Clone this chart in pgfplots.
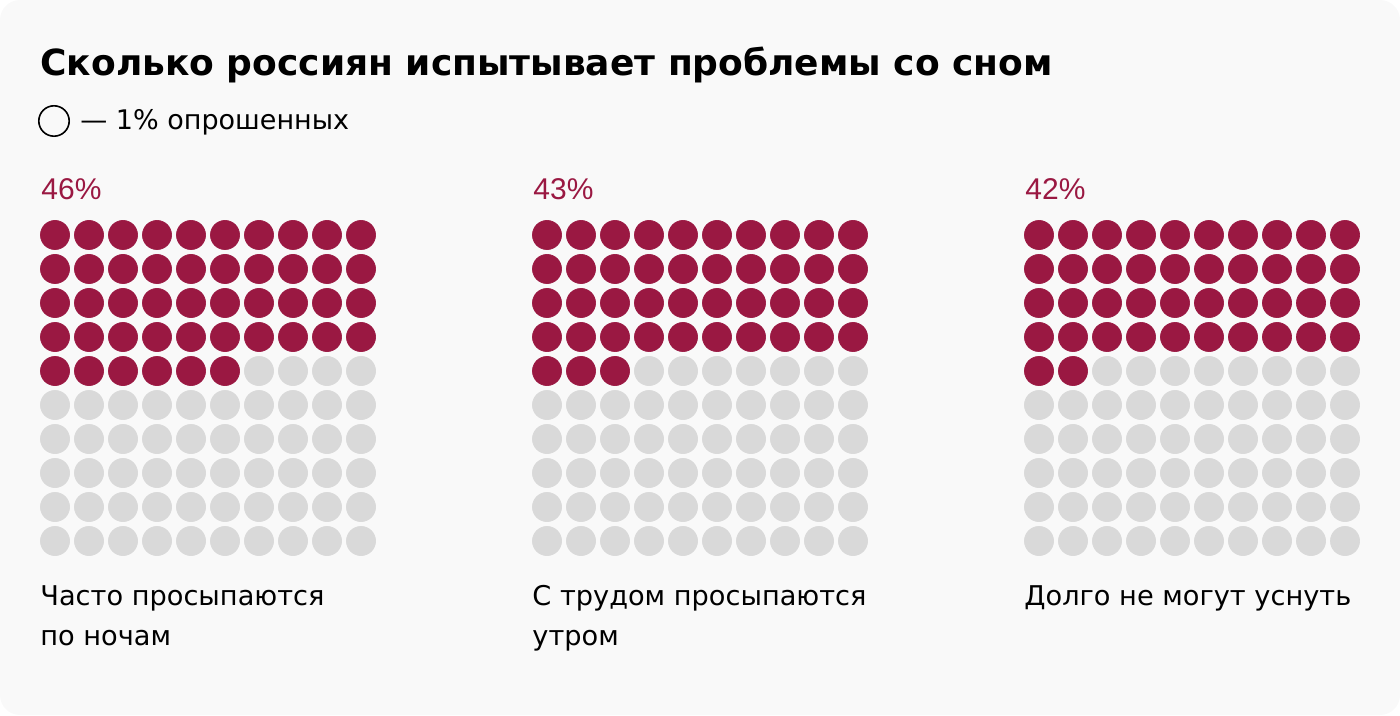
\documentclass[border=0pt]{standalone}
\usepackage{fontspec}
\setmainfont{DejaVu Sans}
\newfontfamily\pctfont{Liberation Sans}
\usepackage{pgfplots}
\pgfplotsset{compat=1.18}
\definecolor{bg}{HTML}{F9F9F9}
\definecolor{wred}{HTML}{9A1842}
\definecolor{wgray}{HTML}{D9D9D9}
\pgfplotsset{
  cell/.style={only marks, mark=*, mark size=7.3pt, color=#1, mark options={draw=#1, fill=#1, line width=0.3pt}},
  gridA/.style={x filter/.expression={55+34*x}, y filter/.expression={235+34*y}},
  gridB/.style={x filter/.expression={547+34*x}, y filter/.expression={235+34*y}},
  gridC/.style={x filter/.expression={1039+34*x}, y filter/.expression={235+34*y}},
}
\tikzset{lbl/.style={anchor=base west, inner sep=0pt, font=\fontsize{13.6}{16}\selectfont}}
\begin{document}
\begin{tikzpicture}
\begin{axis}[width=700pt, height=358pt, scale only axis, hide axis,
  xmin=0, xmax=1400, ymin=0, ymax=716, y dir=reverse, clip=false]
\fill[bg, rounded corners=10pt] (axis cs:0,0) rectangle (axis cs:1400,715);
\node[anchor=base west, inner sep=0pt, font=\fontsize{18}{20}\selectfont\bfseries] at (axis cs:40,76) {Сколько россиян испытывает проблемы со сном};
\addplot[only marks, mark=o, mark size=7.6pt, mark options={draw=black, line width=0.8pt}] coordinates {(54,121)};
\node[anchor=base west, inner sep=0pt, font=\fontsize{13.5}{15}\selectfont] at (axis cs:80,130) {— 1\% опрошенных};
% Grid 1: 46%
\addplot[cell=wred, gridA] coordinates {
(0,0)(1,0)(2,0)(3,0)(4,0)(5,0)(6,0)(7,0)(8,0)(9,0)
(0,1)(1,1)(2,1)(3,1)(4,1)(5,1)(6,1)(7,1)(8,1)(9,1)
(0,2)(1,2)(2,2)(3,2)(4,2)(5,2)(6,2)(7,2)(8,2)(9,2)
(0,3)(1,3)(2,3)(3,3)(4,3)(5,3)(6,3)(7,3)(8,3)(9,3)
(0,4)(1,4)(2,4)(3,4)(4,4)(5,4)};
\addplot[cell=wgray, gridA] coordinates {
(6,4)(7,4)(8,4)(9,4)
(0,5)(1,5)(2,5)(3,5)(4,5)(5,5)(6,5)(7,5)(8,5)(9,5)
(0,6)(1,6)(2,6)(3,6)(4,6)(5,6)(6,6)(7,6)(8,6)(9,6)
(0,7)(1,7)(2,7)(3,7)(4,7)(5,7)(6,7)(7,7)(8,7)(9,7)
(0,8)(1,8)(2,8)(3,8)(4,8)(5,8)(6,8)(7,8)(8,8)(9,8)
(0,9)(1,9)(2,9)(3,9)(4,9)(5,9)(6,9)(7,9)(8,9)(9,9)};
% Grid 2: 43%
\addplot[cell=wred, gridB] coordinates {
(0,0)(1,0)(2,0)(3,0)(4,0)(5,0)(6,0)(7,0)(8,0)(9,0)
(0,1)(1,1)(2,1)(3,1)(4,1)(5,1)(6,1)(7,1)(8,1)(9,1)
(0,2)(1,2)(2,2)(3,2)(4,2)(5,2)(6,2)(7,2)(8,2)(9,2)
(0,3)(1,3)(2,3)(3,3)(4,3)(5,3)(6,3)(7,3)(8,3)(9,3)
(0,4)(1,4)(2,4)};
\addplot[cell=wgray, gridB] coordinates {
(3,4)(4,4)(5,4)(6,4)(7,4)(8,4)(9,4)
(0,5)(1,5)(2,5)(3,5)(4,5)(5,5)(6,5)(7,5)(8,5)(9,5)
(0,6)(1,6)(2,6)(3,6)(4,6)(5,6)(6,6)(7,6)(8,6)(9,6)
(0,7)(1,7)(2,7)(3,7)(4,7)(5,7)(6,7)(7,7)(8,7)(9,7)
(0,8)(1,8)(2,8)(3,8)(4,8)(5,8)(6,8)(7,8)(8,8)(9,8)
(0,9)(1,9)(2,9)(3,9)(4,9)(5,9)(6,9)(7,9)(8,9)(9,9)};
% Grid 3: 42%
\addplot[cell=wred, gridC] coordinates {
(0,0)(1,0)(2,0)(3,0)(4,0)(5,0)(6,0)(7,0)(8,0)(9,0)
(0,1)(1,1)(2,1)(3,1)(4,1)(5,1)(6,1)(7,1)(8,1)(9,1)
(0,2)(1,2)(2,2)(3,2)(4,2)(5,2)(6,2)(7,2)(8,2)(9,2)
(0,3)(1,3)(2,3)(3,3)(4,3)(5,3)(6,3)(7,3)(8,3)(9,3)
(0,4)(1,4)};
\addplot[cell=wgray, gridC] coordinates {
(2,4)(3,4)(4,4)(5,4)(6,4)(7,4)(8,4)(9,4)
(0,5)(1,5)(2,5)(3,5)(4,5)(5,5)(6,5)(7,5)(8,5)(9,5)
(0,6)(1,6)(2,6)(3,6)(4,6)(5,6)(6,6)(7,6)(8,6)(9,6)
(0,7)(1,7)(2,7)(3,7)(4,7)(5,7)(6,7)(7,7)(8,7)(9,7)
(0,8)(1,8)(2,8)(3,8)(4,8)(5,8)(6,8)(7,8)(8,8)(9,8)
(0,9)(1,9)(2,9)(3,9)(4,9)(5,9)(6,9)(7,9)(8,9)(9,9)};
% percent labels
\node[anchor=base west, inner sep=0pt, text=wred, font=\fontsize{15}{18}\selectfont\pctfont] at (axis cs:41,200) {46\%};
\node[anchor=base west, inner sep=0pt, text=wred, font=\fontsize{15}{18}\selectfont\pctfont] at (axis cs:533,200) {43\%};
\node[anchor=base west, inner sep=0pt, text=wred, font=\fontsize{15}{18}\selectfont\pctfont] at (axis cs:1025,200) {42\%};
% category labels
\node[lbl] at (axis cs:40,605) {Часто просыпаются};
\node[lbl] at (axis cs:40,645) {по ночам};
\node[lbl] at (axis cs:532,605) {С трудом просыпаются};
\node[lbl] at (axis cs:532,645) {утром};
\node[lbl] at (axis cs:1024,605) {Долго не могут уснуть};
\end{axis}
\pgfresetboundingbox
\path (current axis.south west) rectangle (current axis.north east);
\end{tikzpicture}
\end{document}
